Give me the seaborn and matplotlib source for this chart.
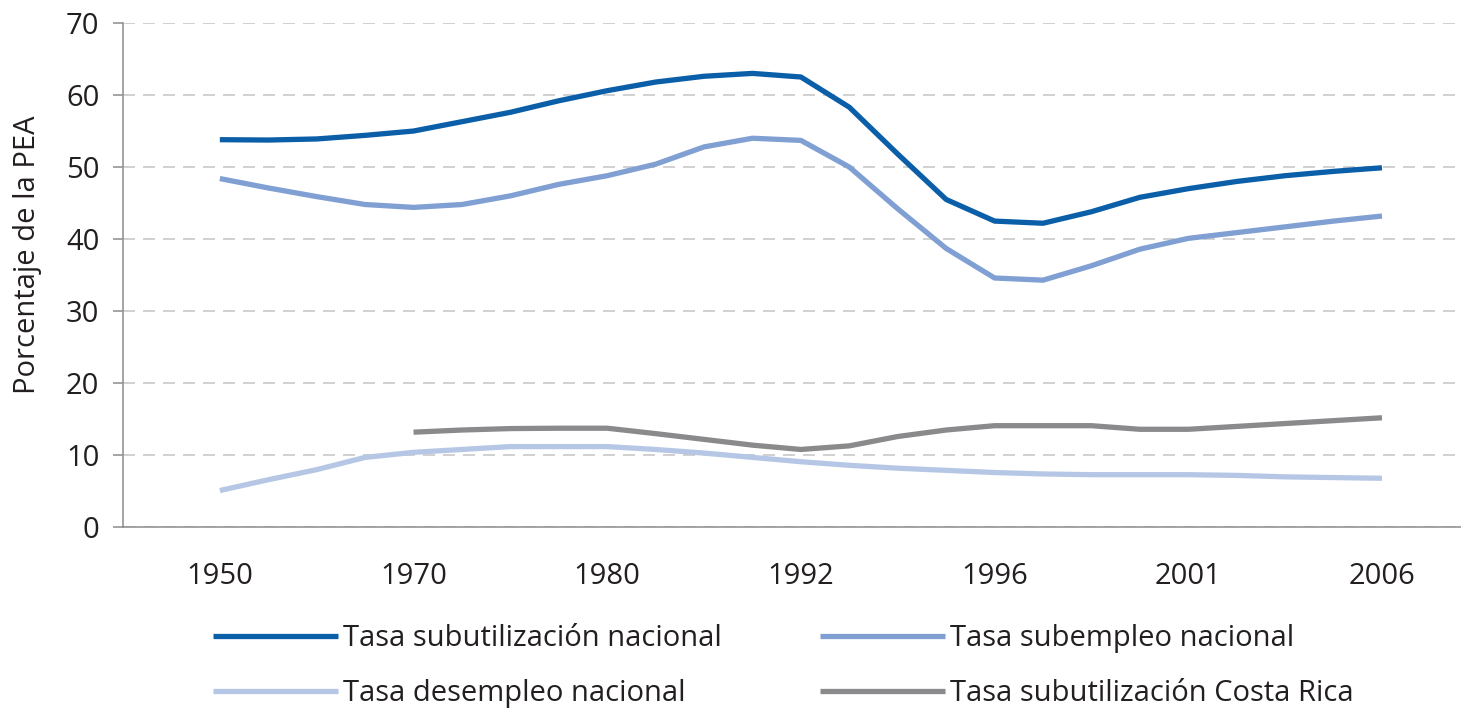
import matplotlib
matplotlib.use("Agg")
import matplotlib.pyplot as plt
import seaborn as sns

# Años (categorías del eje x)
anos = ['1950', '1970', '1980', '1992', '1996', '2001', '2006']

# Posiciones leídas sobre el eje categórico (cada cuarto de intervalo)
posicion = [0, 0.25, 0.5, 0.75, 1, 1.25, 1.5, 1.75, 2, 2.25, 2.5, 2.75, 3,
            3.25, 3.5, 3.75, 4, 4.25, 4.5, 4.75, 5, 5.25, 5.5, 5.75, 6]

subutilizacion = [53.8, 53.75, 53.9, 54.4, 55.0, 56.3, 57.6, 59.2, 60.6, 61.8,
                  62.6, 63.0, 62.5, 58.3, 51.8, 45.5, 42.5, 42.2, 43.8, 45.8,
                  47.0, 48.0, 48.8, 49.4, 49.9]

subempleo = [48.4, 47.1, 45.9, 44.8, 44.4, 44.8, 46.0, 47.6, 48.8, 50.4,
             52.8, 54.0, 53.7, 50.0, 44.2, 38.7, 34.6, 34.3, 36.3, 38.6,
             40.1, 40.9, 41.7, 42.5, 43.2]

desempleo = [5.1, 6.6, 8.0, 9.7, 10.4, 10.8, 11.2, 11.2, 11.2, 10.8,
             10.3, 9.7, 9.1, 8.6, 8.2, 7.9, 7.6, 7.4, 7.3, 7.3,
             7.3, 7.2, 7.0, 6.9, 6.8]

posicion_cr = [1, 1.25, 1.5, 1.75, 2, 2.25, 2.5, 2.75, 3, 3.25, 3.5,
               3.75, 4, 4.25, 4.5, 4.75, 5, 5.25, 5.5, 5.75, 6]
subutilizacion_cr = [13.2, 13.5, 13.7, 13.75, 13.75, 13.0, 12.2, 11.4, 10.8,
                     11.3, 12.6, 13.5, 14.1, 14.1, 14.1, 13.6, 13.6, 14.0,
                     14.4, 14.8, 15.2]

sns.set_style('white')
plt.rcParams['font.family'] = ['Open Sans', 'DejaVu Sans']
texto = '#231f20'
gris = '#8c8c8c'
fs = 21

fig = plt.figure(figsize=(14.61, 7.11), dpi=100)
ax = fig.add_axes([0.0842, 0.2584, 0.9158, 0.7093])

lw = 3.8
sns.lineplot(x=posicion, y=subutilizacion, ax=ax, color='#0b5ea8', linewidth=lw,
             label='Tasa subutilización nacional', solid_capstyle='butt')
sns.lineplot(x=posicion, y=desempleo, ax=ax, color='#b6c7e6', linewidth=lw,
             label='Tasa desempleo nacional', solid_capstyle='butt')
sns.lineplot(x=posicion, y=subempleo, ax=ax, color='#809fd2', linewidth=lw,
             label='Tasa subempleo nacional', solid_capstyle='butt')
sns.lineplot(x=posicion_cr, y=subutilizacion_cr, ax=ax, color='#8a8a8c', linewidth=lw,
             label='Tasa subutilización Costa Rica', solid_capstyle='butt')

handles, labels = ax.get_legend_handles_labels()
if ax.get_legend() is not None:
    ax.get_legend().remove()

ax.set_xlim(-0.5, 6.408)
ax.set_ylim(0, 70)
ax.set_xticks(range(len(anos)))
ax.set_xticklabels(anos)
ax.set_xticks([i - 0.5 for i in range(len(anos))], minor=True)
ax.set_yticks(range(0, 80, 10))

ax.tick_params(axis='x', which='major', length=0, pad=25, labelsize=fs, labelcolor=texto)
ax.tick_params(axis='x', which='minor', length=7, width=1.1, color=gris, direction='out')
ax.tick_params(axis='y', length=7, width=1.1, color=gris, pad=10, labelsize=fs,
               labelcolor=texto, left=True)

ax.yaxis.grid(True, color='#c8c8c8', linewidth=1.2, linestyle=(0, (7.2, 4.8)))
ax.set_axisbelow(True)

for lado in ['top', 'right']:
    ax.spines[lado].set_visible(False)
for lado in ['left', 'bottom']:
    ax.spines[lado].set_color(gris)
    ax.spines[lado].set_linewidth(1.1)

ax.set_xlabel('')
ax.set_ylabel('Porcentaje de la PEA', fontsize=fs, color=texto)
ax.yaxis.set_label_coords(-0.0605, 0.54)

fig.legend(handles, labels, ncol=2, loc='upper left',
           bbox_to_anchor=(213 / 1461, 1 - 624 / 711), frameon=False,
           fontsize=fs, handlelength=4.3, handletextpad=0.15, columnspacing=3.37,
           labelspacing=0.9, borderpad=0, borderaxespad=0, labelcolor=texto)

fig.savefig('out.png', dpi=100)
